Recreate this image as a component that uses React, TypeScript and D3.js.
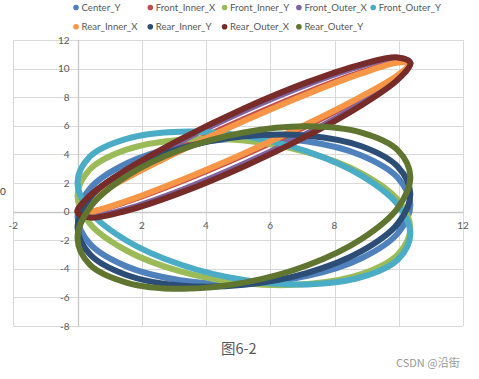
import React from "react";
import * as d3 from "d3";

const W = 479;
const H = 379;

// shared X column (scatter chart)
const xValues = [0, 0.39, 1.52, 3.2, 5.18, 7.16, 8.84, 9.97, 10.36, 9.97, 8.84, 7.16, 5.18, 3.2, 1.52, 0.39];

const centerY = [-0.36, 1.62, 3.36, 4.59, 5.13, 4.9, 3.93, 2.37, 0.46, -1.52, -3.26, -4.49, -5.03, -4.8, -3.83, -2.27];
const frontInnerX = [0.07, 0.95, 2.47, 4.42, 6.48, 8.35, 9.75, 10.46, 10.37, 9.49, 7.97, 6.02, 3.96, 2.09, 0.69, -0.02];
const frontInnerY = [1.14, 2.96, 4.33, 5.03, 4.97, 4.14, 2.68, 0.82, -1.18, -3.0, -4.37, -5.07, -5.01, -4.18, -2.72, -0.86];
const frontOuterX = [-0.04, 1.06, 2.8, 4.9, 7.04, 8.9, 10.2, 10.73, 10.42, 9.32, 7.58, 5.48, 3.34, 1.48, 0.18, -0.35];
const frontOuterY = [2.07, 3.86, 5.09, 5.59, 5.28, 4.2, 2.52, 0.49, -1.57, -3.36, -4.59, -5.09, -4.78, -3.7, -2.02, 0.01];
const rearInnerX = [0.02, 0.85, 2.34, 4.26, 6.33, 8.23, 9.66, 10.42, 10.38, 9.55, 8.06, 6.14, 4.07, 2.18, 0.74, -0.02];
const rearInnerY = [-1.1, 0.98, 2.91, 4.42, 5.26, 5.31, 4.57, 3.14, 1.24, -0.84, -2.77, -4.28, -5.12, -5.17, -4.43, -3.0];
const rearOuterX = [-0.04, 1.13, 2.92, 5.05, 7.21, 9.05, 10.3, 10.78, 10.4, 9.23, 7.44, 5.31, 3.16, 1.31, 0.06, -0.42];
const rearOuterY = [-1.88, 0.3, 2.47, 4.31, 5.53, 5.96, 5.52, 4.29, 2.44, 0.26, -1.91, -3.75, -4.97, -5.4, -4.96, -3.73];

const seriesNames = [
  "Center_Y", "Front_Inner_X", "Front_Inner_Y", "Front_Outer_X", "Front_Outer_Y",
  "Rear_Inner_X", "Rear_Inner_Y", "Rear_Outer_X", "Rear_Outer_Y",
];
const seriesValues = [centerY, frontInnerX, frontInnerY, frontOuterX, frontOuterY, rearInnerX, rearInnerY, rearOuterX, rearOuterY];
const seriesColors = ["#4F81BD", "#C0504D", "#9BBB59", "#8064A2", "#4BACC6", "#F79646", "#2C4D75", "#772C2A", "#5F7530"];

const xTicks = [-2, 0, 2, 4, 6, 8, 10, 12];
const yTicks = [-8, -6, -4, -2, 0, 2, 4, 6, 8, 10, 12];

const FONT = "Lato, 'Noto Sans', sans-serif";

export default function App() {
  const x = d3.scaleLinear().domain([-2, 12]).range([13.3, 463]);
  const y = d3.scaleLinear().domain([-8, 12]).range([326, 40]);

  const line = d3
    .line<[number, number]>()
    .x((d) => x(d[0]))
    .y((d) => y(d[1]))
    .curve(d3.curveCatmullRomClosed.alpha(0.5));

  const legendCols = 5;
  return (
    <svg
      width={W}
      height={H}
      style={{ position: "absolute", left: 0, top: 0, background: "#fff" }}
    >
      <rect x={0} y={0} width={W} height={H} fill="#fff" />
      {/* gridlines */}
      {yTicks.map((t) => (
        <line key={"gy" + t} x1={x(-2)} x2={x(12)} y1={Math.round(y(t)) + 0.5} y2={Math.round(y(t)) + 0.5} stroke="#d9d9d9" strokeWidth={1} />
      ))}
      {xTicks.map((t) => (
        <line key={"gx" + t} x1={Math.round(x(t)) + 0.5} x2={Math.round(x(t)) + 0.5} y1={y(12)} y2={y(-8)} stroke="#d9d9d9" strokeWidth={1} />
      ))}
      {/* axis lines */}
      <line x1={x(-2)} x2={x(12)} y1={Math.round(y(0)) + 0.5} y2={Math.round(y(0)) + 0.5} stroke="#c8c8c8" strokeWidth={1.3} />
      <line x1={Math.round(x(0)) + 0.5} x2={Math.round(x(0)) + 0.5} y1={y(12)} y2={y(-8)} stroke="#c8c8c8" strokeWidth={1.3} />
      {/* y tick labels */}
      {yTicks.map((t) => (
        <text key={"ly" + t} x={x(0) - 8} y={y(t) + 3.5} textAnchor="end" fontSize={10} fill="#595959" fontFamily={FONT}>
          {t}
        </text>
      ))}
      {/* x tick labels */}
      {xTicks.map((t) => (
        <text key={"lx" + t} x={x(t)} y={y(0) + 17} textAnchor="middle" fontSize={10} fill="#595959" fontFamily={FONT}>
          {t}
        </text>
      ))}
      {/* series */}
      {seriesValues.map((vals, i) => {
        const pts = xValues.map((xv, k) => [xv, vals[k]] as [number, number]);
        return (
          <path key={seriesNames[i]} d={line(pts) || ""} fill="none" stroke={seriesColors[i]} strokeWidth={6} strokeLinejoin="round" />
        );
      })}
      {/* legend */}
      {seriesNames.map((name, i) => {
        const col = i % legendCols;
        const row = Math.floor(i / legendCols);
        const cx = 76 + col * 74.3;
        const cy = 7.5 + row * 19.3;
        return (
          <g key={"lg" + name}>
            <circle cx={cx} cy={cy} r={2.8} fill={seriesColors[i]} />
            <text x={cx + 5.5} y={cy + 3.4} fontSize={9.6} fill="#595959" fontFamily={FONT}>
              {name}
            </text>
          </g>
        );
      })}
      {/* axis title fragment at the left edge */}
      <text x={0} y={195} textAnchor="start" fontSize={10} fill="#404040" fontFamily={FONT}>
        0
      </text>
      {/* caption */}
      <text x={221} y={354} fontSize={14.5} fill="#595959" fontFamily="'Noto Sans CJK SC', sans-serif">
        图6-2
      </text>
      <text x={396} y={367} fontSize={11} fill="#999" fontFamily="'Noto Sans CJK SC', sans-serif">
        CSDN @沿街
      </text>
    </svg>
  );
}
